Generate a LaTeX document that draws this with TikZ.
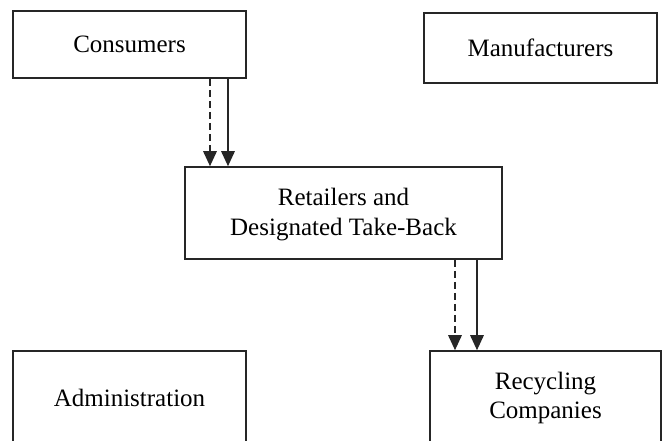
\documentclass[tikz,border=0pt]{standalone}
\usepackage{fontspec}
\setmainfont{Liberation Serif}
\usetikzlibrary{arrows.meta}
\begin{document}
\begin{tikzpicture}[x=1pt,y=-1pt,
  box/.style={draw=black!85,line width=1.6pt,rectangle,inner sep=0pt,align=center,
    font=\fontsize{25}{29.5}\selectfont},
  solidarrow/.style={line width=1.6pt,draw=black!85,-{Triangle[width=13.5pt,length=15pt]}},
  dasharrow/.style={solidarrow,dash pattern=on 7pt off 4pt}]
\useasboundingbox (0,0) rectangle (662,441);
\begin{scope}
\clip (0,0) rectangle (662,441);
\node[box,minimum width=233,minimum height=67] (cons) at (129.5,44.5) {Consumers};
\node[box,minimum width=233,minimum height=70] (man) at (540.5,48) {Manufacturers};
\node[box,minimum width=317,minimum height=92,text depth=2pt] (ret) at (343.5,213) {Retailers and\\Designated Take-Back};
\node[box,minimum width=233,minimum height=94] (adm) at (129.5,398) {Administration};
\node[box,minimum width=231,minimum height=94] (rec) at (545.5,398) {Recycling\\Companies};
\coordinate (d1) at (210,0);
\coordinate (s1) at (228,0);
\coordinate (d2) at (455,0);
\coordinate (s2) at (477,0);
\draw[dasharrow] (cons.south -| d1) -- (ret.north -| d1);
\draw[solidarrow] (cons.south -| s1) -- (ret.north -| s1);
\draw[dasharrow] (ret.south -| d2) -- (rec.north -| d2);
\draw[solidarrow] (ret.south -| s2) -- (rec.north -| s2);
\end{scope}
\end{tikzpicture}
\end{document}
